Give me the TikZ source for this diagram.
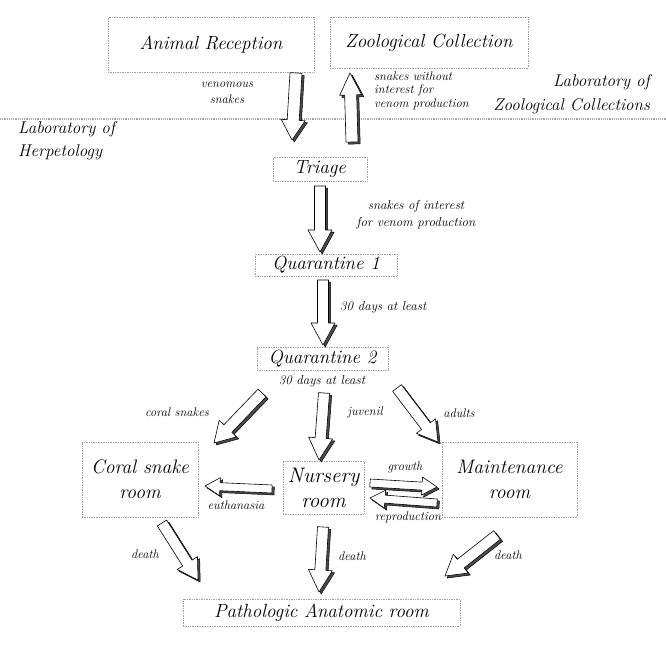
\documentclass[tikz,border=0pt]{standalone}
\usetikzlibrary{calc}
\tikzset{
  box/.style={draw=gray!75, densely dotted, line width=0.7pt, inner sep=0pt, align=center,
    font=\itshape\fontsize{19}{22}\selectfont},
  mbox/.style={box, font=\itshape\fontsize{19.5}{25}\selectfont},
  lbl/.style={inner sep=0pt, align=center, font=\itshape\fontsize{12.5}{15}\selectfont},
  biglbl/.style={inner sep=0pt, font=\itshape\fontsize{17}{23.5}\selectfont},
  sepline/.style={draw=gray!70, densely dotted, line width=1.2pt},
}
% block arrow: start, end, half shaft width, half head width, head length
\newcommand\barrow[5]{%
  \coordinate (tmpB) at ($(#2)!#5!(#1)$);
  \path[fill=black!70, draw=black, line width=0.5pt, line join=round,
        transform canvas={shift={(2.2pt,-2pt)}}]
    ($(#1)!#3!90:(#2)$) -- ($(tmpB)!#3!90:(#2)$) -- ($(tmpB)!#4!90:(#2)$) -- (#2)
    -- ($(tmpB)!#4!-90:(#2)$) -- ($(tmpB)!#3!-90:(#2)$) -- ($(#1)!#3!-90:(#2)$) -- cycle;
  \path[fill=white, draw=black, line width=0.6pt, line join=round]
    ($(#1)!#3!90:(#2)$) -- ($(tmpB)!#3!90:(#2)$) -- ($(tmpB)!#4!90:(#2)$) -- (#2)
    -- ($(tmpB)!#4!-90:(#2)$) -- ($(tmpB)!#3!-90:(#2)$) -- ($(#1)!#3!-90:(#2)$) -- cycle;
}
\begin{document}
\begin{tikzpicture}[x=1pt,y=-1pt]
\useasboundingbox (0,0) rectangle (666,645);
\fill[white] (0,0) rectangle (666,645);

% separator line
\coordinate (sepL) at (0,119);
\coordinate (sepR) at (666,119);
\draw[sepline] (sepL) -- (sepR);

% boxes
\node[box, minimum width=206pt, minimum height=55pt] (ar) at (211,44.5) {Animal Reception};
\node[box, minimum width=198pt, minimum height=51pt] (zc) at (429,42.5) {Zoological Collection};
\node[box, minimum width=94pt, minimum height=24pt] (tri) at (320,169) {Triage};
\node[box, minimum width=142pt, minimum height=22pt] (q1) at (326,265) {Quarantine 1};
\node[box, minimum width=131pt, minimum height=23pt] (q2) at (322.5,358.5) {Quarantine 2};
\node[mbox, minimum width=116pt, minimum height=75pt] (coral) at (140,479.5) {Coral snake\\room};
\node[mbox, font=\itshape\fontsize{21}{25}\selectfont, minimum width=81pt, minimum height=53pt] (nur) at (323.5,487.5) {Nursery\\room};
\node[mbox, minimum width=135pt, minimum height=75pt] (mnt) at (509.5,479.5) {Maintenance\\room};
\node[box, minimum width=277pt, minimum height=27pt] (pat) at (321.5,612.5) {Pathologic Anatomic room};

% arrow end points
\coordinate (a1s) at (296,73);   \coordinate (a1e) at (292,140);
\coordinate (a2s) at (352,142);  \coordinate (a2e) at (350,73);
\coordinate (a3s) at (320,186);  \coordinate (a3e) at (320,252);
\coordinate (a4s) at (323,280);  \coordinate (a4e) at (323,345);
\coordinate (a5s) at (262,393);  \coordinate (a5e) at (214,443);
\coordinate (a6s) at (324,393);  \coordinate (a6e) at (319,460);
\coordinate (a7s) at (397,388);  \coordinate (a7e) at (438,442);
\coordinate (a8s) at (272,489);  \coordinate (a8e) at (205,486);
\coordinate (a9s) at (370,483);  \coordinate (a9e) at (437,487);
\coordinate (a10s) at (437,503); \coordinate (a10e) at (370,498);
\coordinate (a11s) at (162,523); \coordinate (a11e) at (198,580);
\coordinate (a12s) at (323,527); \coordinate (a12e) at (319,592);
\coordinate (a13s) at (497,535); \coordinate (a13e) at (445,576);

\barrow{a1s}{a1e}{6pt}{12pt}{20pt}
\barrow{a2s}{a2e}{6pt}{11pt}{22pt}
\barrow{a3s}{a3e}{5.5pt}{12pt}{22pt}
\barrow{a4s}{a4e}{5.5pt}{12pt}{22pt}
\barrow{a5s}{a5e}{5.5pt}{12pt}{20pt}
\barrow{a6s}{a6e}{5.5pt}{12pt}{22pt}
\barrow{a7s}{a7e}{5.5pt}{12pt}{20pt}
\barrow{a8s}{a8e}{4pt}{9pt}{15pt}
\barrow{a9s}{a9e}{4pt}{9pt}{15pt}
\barrow{a10s}{a10e}{4pt}{9pt}{15pt}
\barrow{a11s}{a11e}{5.5pt}{12pt}{20pt}
\barrow{a12s}{a12e}{5.5pt}{12pt}{22pt}
\barrow{a13s}{a13e}{5.5pt}{12pt}{20pt}

% labels
\node[lbl, font=\itshape\fontsize{12.5}{16}\selectfont] (l1) at (227,93) {venomous\\snakes};
\node[lbl, align=left, anchor=west, font=\itshape\fontsize{12.5}{13.5}\selectfont] (l2) at (374,90.5) {snakes without\\interest for\\venom production};
\node[biglbl, align=right, anchor=east] (l3) at (650,94) {Laboratory of\\Zoological Collections};
\node[biglbl, align=left, anchor=west] (l4) at (18,140.5) {Laboratory of\\Herpetology};
\node[lbl, font=\itshape\fontsize{13}{17}\selectfont] (l5) at (416,214.5) {snakes of interest\\for venom production};
\node[lbl, anchor=west, font=\itshape\fontsize{13}{15}\selectfont] (l6) at (340,307) {30 days at least};
\node[lbl, font=\itshape\fontsize{13}{15}\selectfont] (l7) at (322,381) {30 days at least};
\node[lbl] (l8) at (177,412) {coral snakes};
\node[lbl] (l9) at (365,412) {juvenil};
\node[lbl] (l10) at (459,413) {adults};
\node[lbl] (l11) at (236,505) {euthanasia};
\node[lbl] (l12) at (405,467) {growth};
\node[lbl] (l13) at (408,517) {reproduction};
\node[lbl] (l14) at (145,554) {death};
\node[lbl] (l15) at (352,556) {death};
\node[lbl] (l16) at (508,555) {death};
\end{tikzpicture}
\end{document}
